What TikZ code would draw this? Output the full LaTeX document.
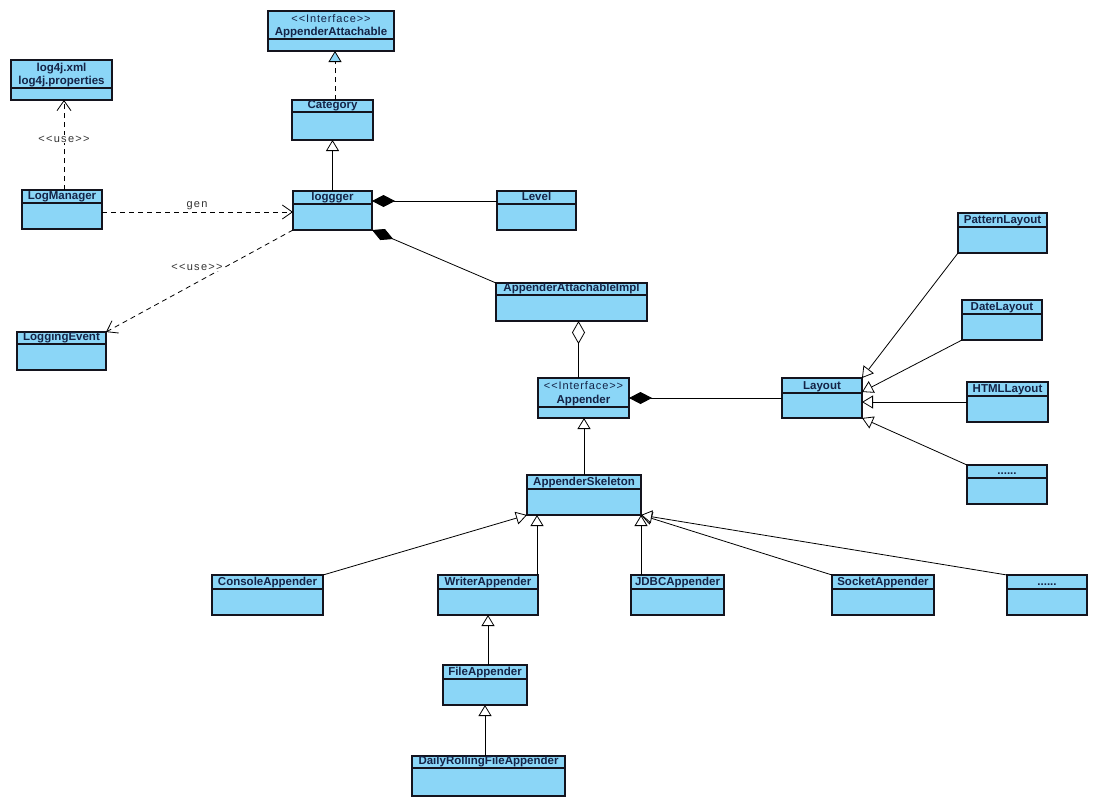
\documentclass[tikz,border=0pt]{standalone}
\usepackage{fontspec}
\setmainfont{Liberation Sans}
\usetikzlibrary{arrows.meta,calc}
\definecolor{clsfill}{RGB}{139,214,247}
\definecolor{clstext}{RGB}{20,35,70}
\definecolor{clsdraw}{RGB}{20,20,30}
\tikzset{
 cls/.style={draw=clsdraw, fill=clsfill, line width=1.2pt, inner sep=0pt, outer sep=0pt, rectangle},
 clsline/.style={draw=clsdraw, line width=1.2pt},
 clstitle/.style={text=clstext, font=\fontsize{11.5}{13}\selectfont\bfseries, inner sep=0pt, anchor=base},
 stereo/.style={text=clstext, font=\fontsize{11}{12}\selectfont\addfontfeature{LetterSpace=8}, inner sep=0pt, anchor=base},
 conn/.style={line width=0.8pt, draw=black},
 gener/.style={conn, -{Triangle[fill=white, length=11pt, width=13pt]}},
 realize/.style={conn, dash pattern=on 5pt off 4pt, -{Triangle[fill=clsfill, length=11pt, width=13pt]}},
 dep/.style={conn, dash pattern=on 5pt off 4pt, -{Straight Barb[length=10pt, width=14pt]}},
 comp/.style={conn, {Diamond[length=23pt, width=12pt]}-},
 aggr/.style={conn, {Diamond[fill=white, length=23pt, width=13pt]}-},
 lbl/.style={font=\fontsize{11}{12}\selectfont\addfontfeature{LetterSpace=12}, text=black!80, inner sep=1pt}
}
% name, x1, y1, x2, y2, divider y, title
\newcommand\umlcls[7]{%
  \node[cls, anchor=north west, minimum width={(#4-#2)*1pt}, minimum height={(#5-#3)*1pt}] (#1) at (#2,#3) {};
  \draw[clsline] (#2,#6) -- (#4,#6);
  \node[clstitle] (#1-t) at ({(#2+#4)/2},{#6-3.5}) {#7};
}
\begin{document}
\begin{tikzpicture}[x=1pt,y=-1pt]
\fill[white] (0,0) rectangle (1099,808);
\path[use as bounding box] (0,0) rectangle (1099,808);

\umlcls{aa}{268}{11}{394}{51}{39}{AppenderAttachable}
\node[stereo] (aa-s) at (331,23) {{<}{<}Interface{>}{>}};
\umlcls{l4}{11}{60}{112}{100}{88}{log4j.properties}
\node[clstitle] (l4-s) at (61.5,71.5) {log4j.xml};
\umlcls{cat}{292}{100}{373}{140}{112}{Category}
\umlcls{lg}{293}{191}{372}{230}{204}{loggger}
\umlcls{lv}{497}{191}{576}{230}{204}{Level}
\umlcls{lm}{22}{190}{102}{229}{203}{LogManager}
\umlcls{le}{17}{332}{106}{370}{344}{LoggingEvent}
\umlcls{aai}{496}{283}{647}{321}{295}{AppenderAttachableImpl}
\umlcls{app}{538}{378}{629}{418}{407}{Appender}
\node[stereo] (app-s) at (583.5,389) {{<}{<}Interface{>}{>}};
\umlcls{lay}{782}{378}{862}{418}{393}{Layout}
\umlcls{pl}{958}{213}{1047}{253}{227}{PatternLayout}
\umlcls{dl}{962}{300}{1042}{340}{314}{DateLayout}
\umlcls{hl}{967}{382}{1048}{422}{396}{HTMLLayout}
\umlcls{dda}{967}{465}{1047}{504}{478}{......}
\umlcls{sk}{527}{475}{641}{515}{489}{AppenderSkeleton}
\umlcls{con}{212}{575}{323}{615}{589}{ConsoleAppender}
\umlcls{wr}{438}{575}{538}{615}{589}{WriterAppender}
\umlcls{jd}{631}{575}{724}{615}{589}{JDBCAppender}
\umlcls{so}{832}{575}{934}{615}{589}{SocketAppender}
\umlcls{ddb}{1007}{575}{1087}{615}{589}{......}
\umlcls{fa}{443}{665}{527}{705}{679}{FileAppender}
\umlcls{dr}{412}{756}{565}{796}{768}{DailyRollingFileAppender}

% connectors
\draw[realize] ([xshift=2.5pt]cat.north) -- ([xshift=2.5pt]cat.north |- aa.south);
\draw[gener] (lg.north) -- (lg.north |- cat.south);
\draw[dep] ([xshift=2pt]lm.north) -- ([xshift=2pt]lm.north |- l4.south);
\draw[dep] ([yshift=-2.5pt]lm.east) -- ([yshift=-2.5pt]lm.east -| lg.west);
\draw[dep] (lg.south west) -- (le.north east);
\draw[comp] ([yshift=9.5pt]lg.east) -- ([yshift=9.5pt]lg.east -| lv.west);
\draw[comp] (lg.south east) -- (aai.north west);
\draw[aggr] ([xshift=7pt]aai.south) -- ([xshift=7pt]aai.south |- app.north);
\draw[comp] (app.east) -- (lay.west);
\draw[gener] (sk.north) -- (sk.north |- app.south);
\draw[gener] (con.north east) -- (sk.south west);
\draw[gener] ([xshift=-1pt]wr.north east) -- ([xshift=-1pt]wr.north east |- sk.south);
\draw[gener] ([xshift=10pt]jd.north west) -- ([xshift=10pt]jd.north west |- sk.south);
\draw[gener] (so.north west) -- (sk.south east);
\draw[gener] (ddb.north west) -- (sk.south east);
\draw[gener] (fa.north -| wr.south) -- (wr.south);
\draw[gener] (dr.north -| fa.south) -- (fa.south);
\draw[gener] (pl.south west) -- (lay.north east);
\draw[gener] (dl.south west) -- ([yshift=6pt]lay.east);
\draw[gener] (hl.west) -- (hl.west -| lay.east);
\draw[gener] (dda.north west) -- (lay.south east);

% labels
\node[lbl, fill=white] (u1) at (64,139) {{<}{<}use{>}{>}};
\node[lbl] (g1) at (197,206) {gen};
\node[lbl, fill=white] (u2) at (197,267) {{<}{<}use{>}{>}};
\end{tikzpicture}
\end{document}
